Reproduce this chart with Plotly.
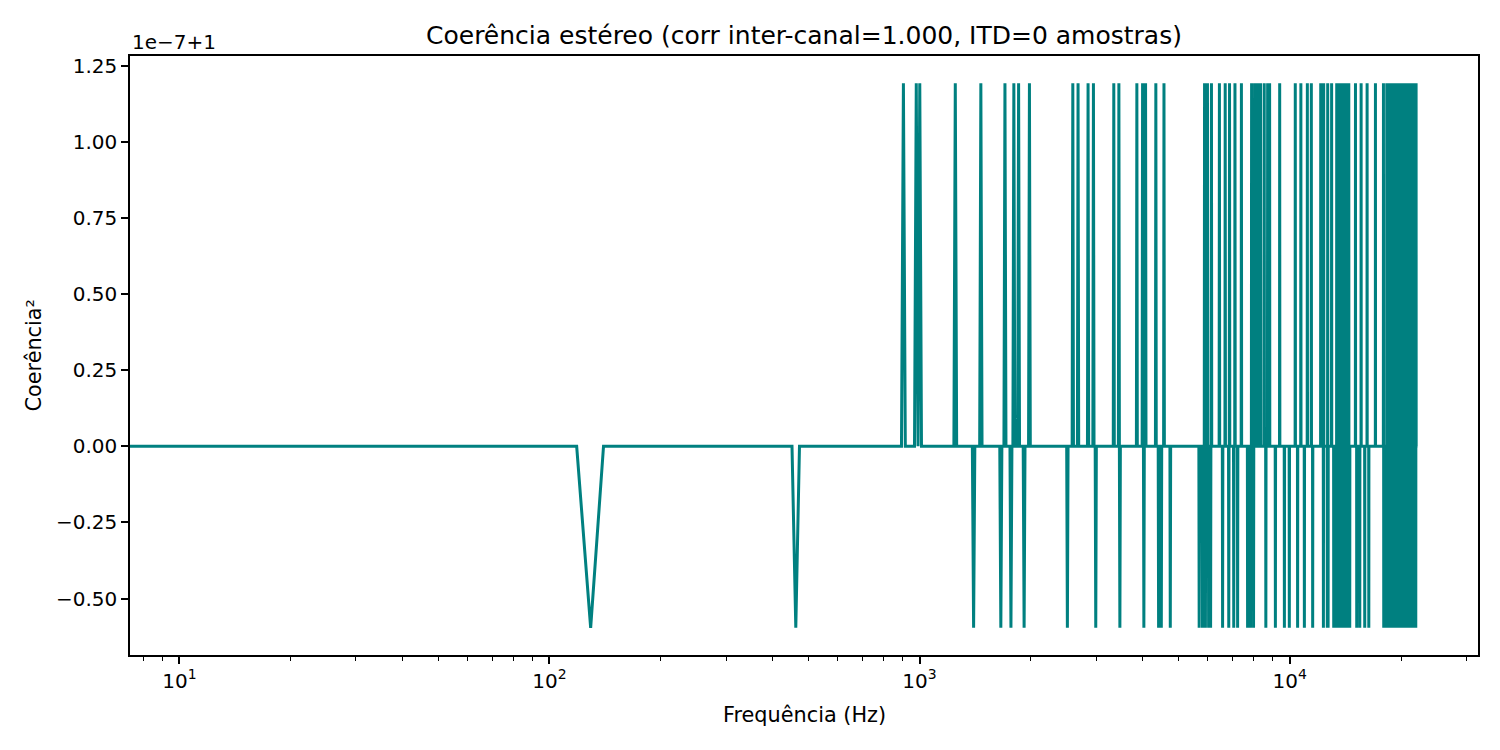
import numpy as np
import plotly.graph_objects as go

# ---- data ----
FS = 44100          # sample rate (Hz)
NFFT = 4096         # segment length -> 2049 frequency bins
SPIKE_VALUE = 1 + 1.1920929e-07   # coherence^2 above 1 (float32 rounding)
DIP_VALUE = 1 - 5.9604645e-08     # coherence^2 just below 1

SPIKE_HZ = [904, 980, 1001, 1249, 1464, 1701, 1798, 1852, 1981, 2595, 2681, 2853,
            2950, 3348, 3456, 3865, 4005, 4080, 4350, 4576, 5889, 5997, 6148, 6460,
            6697, 6880, 7117, 7407, 7892, 8043, 8193, 8344, 8538, 8721, 8829, 9399,
            10357, 10723, 11165, 11445, 12134, 12360, 12672, 12984, 13404, 13577,
            13738, 13910, 14093, 14266, 14449, 15063, 15601, 16193, 17054, 17926,
            18303, 18529, 18766, 19003, 19240, 19477, 19724, 19972, 20220, 20478,
            20726, 20995, 21253, 21512, 21791, 21964]

DIP_HZ = [129, 463, 1400, 1658, 1766, 1916, 2509, 2993, 3478, 4037, 4425, 4500,
          4759, 5696, 5814, 5922, 6040, 6115, 6589, 6848, 7063, 7235, 7698, 7838,
          7989, 8624, 9152, 9679, 9981, 10508, 10960, 11542, 12338, 12640, 12705,
          13157, 13318, 13490, 13652, 13824, 13997, 14169, 14352, 14535, 15181,
          15472, 15956, 16365, 17959, 18195, 18422, 18648, 18885, 19122, 19358,
          19606, 19843, 20090, 20349, 20597, 20855, 21124, 21382, 21652, 21920]

Y_TICKS = [-0.50, -0.25, 0.00, 0.25, 0.50, 0.75, 1.00, 1.25]
X_TICKS = [10, 100, 1000, 10000]
X_TICK_TEXT = ["10<sup>1</sup>", "10<sup>2</sup>", "10<sup>3</sup>", "10<sup>4</sup>"]

TITLE = "Coerência estéreo (corr inter-canal=1.000, ITD=0 amostras)"

# ---- build series ----
freqs = np.fft.rfftfreq(NFFT, 1.0 / FS)
df = freqs[1]
coh = np.ones_like(freqs)
for f in SPIKE_HZ:
    coh[int(round(f / df))] = SPIKE_VALUE
for f in DIP_HZ:
    coh[int(round(f / df))] = DIP_VALUE

# matplotlib-like clipping of non-positive frequencies on a log axis
x_plot = freqs.copy()
x_plot[x_plot <= 0] = 1e-3
y_plot = (coh - 1.0) * 1e7   # displayed with offset "1e-7+1"

# axis ranges like matplotlib's 5% margins
lx0, lx1 = np.log10(freqs[1]), np.log10(freqs[-1])
mx = 0.05 * (lx1 - lx0)
ymin, ymax = y_plot.min(), y_plot.max()
my = 0.05 * (ymax - ymin)

minor_vals = [m * 10 ** k for k in range(0, 5) for m in range(2, 10)]

FONT = "DejaVu Sans"
FS_TICK = 20
FS_LABEL = 20.8
FS_TITLE = 25

fig = go.Figure()
fig.add_trace(go.Scatter(x=x_plot, y=y_plot, mode="lines",
                         line=dict(color="#008080", width=3.0, simplify=False),
                         showlegend=False, hoverinfo="skip"))

fig.update_layout(
    width=1500, height=750, autosize=False,
    margin=dict(l=130, r=22, t=56, b=95),
    paper_bgcolor="white", plot_bgcolor="white",
    font=dict(family=FONT, size=FS_TICK, color="black"),
    title=dict(text=TITLE, x=0.5, xref="paper", xanchor="center",
               y=1 - 35 / 750, yref="container", yanchor="middle",
               font=dict(family=FONT, size=FS_TITLE, color="black")),
)
fig.update_xaxes(type="log", range=[lx0 - mx, lx1 + mx],
                 tickmode="array", tickvals=X_TICKS, ticktext=X_TICK_TEXT,
                 ticks="outside", ticklen=7, tickwidth=1.5, tickcolor="black",
                 showline=True, linecolor="black", linewidth=1.5, mirror=True,
                 showgrid=False, zeroline=False,
                 tickfont=dict(family=FONT, size=FS_TICK, color="black"),
                 minor=dict(tickmode="array", tickvals=minor_vals, ticks="outside",
                            ticklen=4, tickwidth=1.2, tickcolor="black", showgrid=False))
fig.update_yaxes(range=[ymin - my, ymax + my],
                 tickmode="array", tickvals=Y_TICKS,
                 ticktext=[f"{v:.2f}".replace("-", "\u2212") for v in Y_TICKS],
                 ticks="outside", ticklen=7, tickwidth=1.5, tickcolor="black",
                 showline=True, linecolor="black", linewidth=1.5, mirror=True,
                 showgrid=False, zeroline=False,
                 tickfont=dict(family=FONT, size=FS_TICK, color="black"))

fig.add_annotation(text="Frequência (Hz)", xref="paper", yref="paper",
                   x=0.5, y=-(715 - 655) / 599, xanchor="center", yanchor="middle",
                   showarrow=False, font=dict(family=FONT, size=FS_LABEL, color="black"))
fig.add_annotation(text="Coerência²", xref="paper", yref="paper",
                   x=(33 - 130) / 1348, y=0.5, xanchor="center", yanchor="middle",
                   textangle=-90, showarrow=False,
                   font=dict(family=FONT, size=FS_LABEL, color="black"))
fig.add_annotation(text="1e\u22127+1", xref="paper", yref="paper",
                   x=0, y=1 + (56 - 42) / 599, xanchor="left", yanchor="middle",
                   showarrow=False, font=dict(family=FONT, size=FS_TICK, color="black"))

fig.write_html("out.html")
